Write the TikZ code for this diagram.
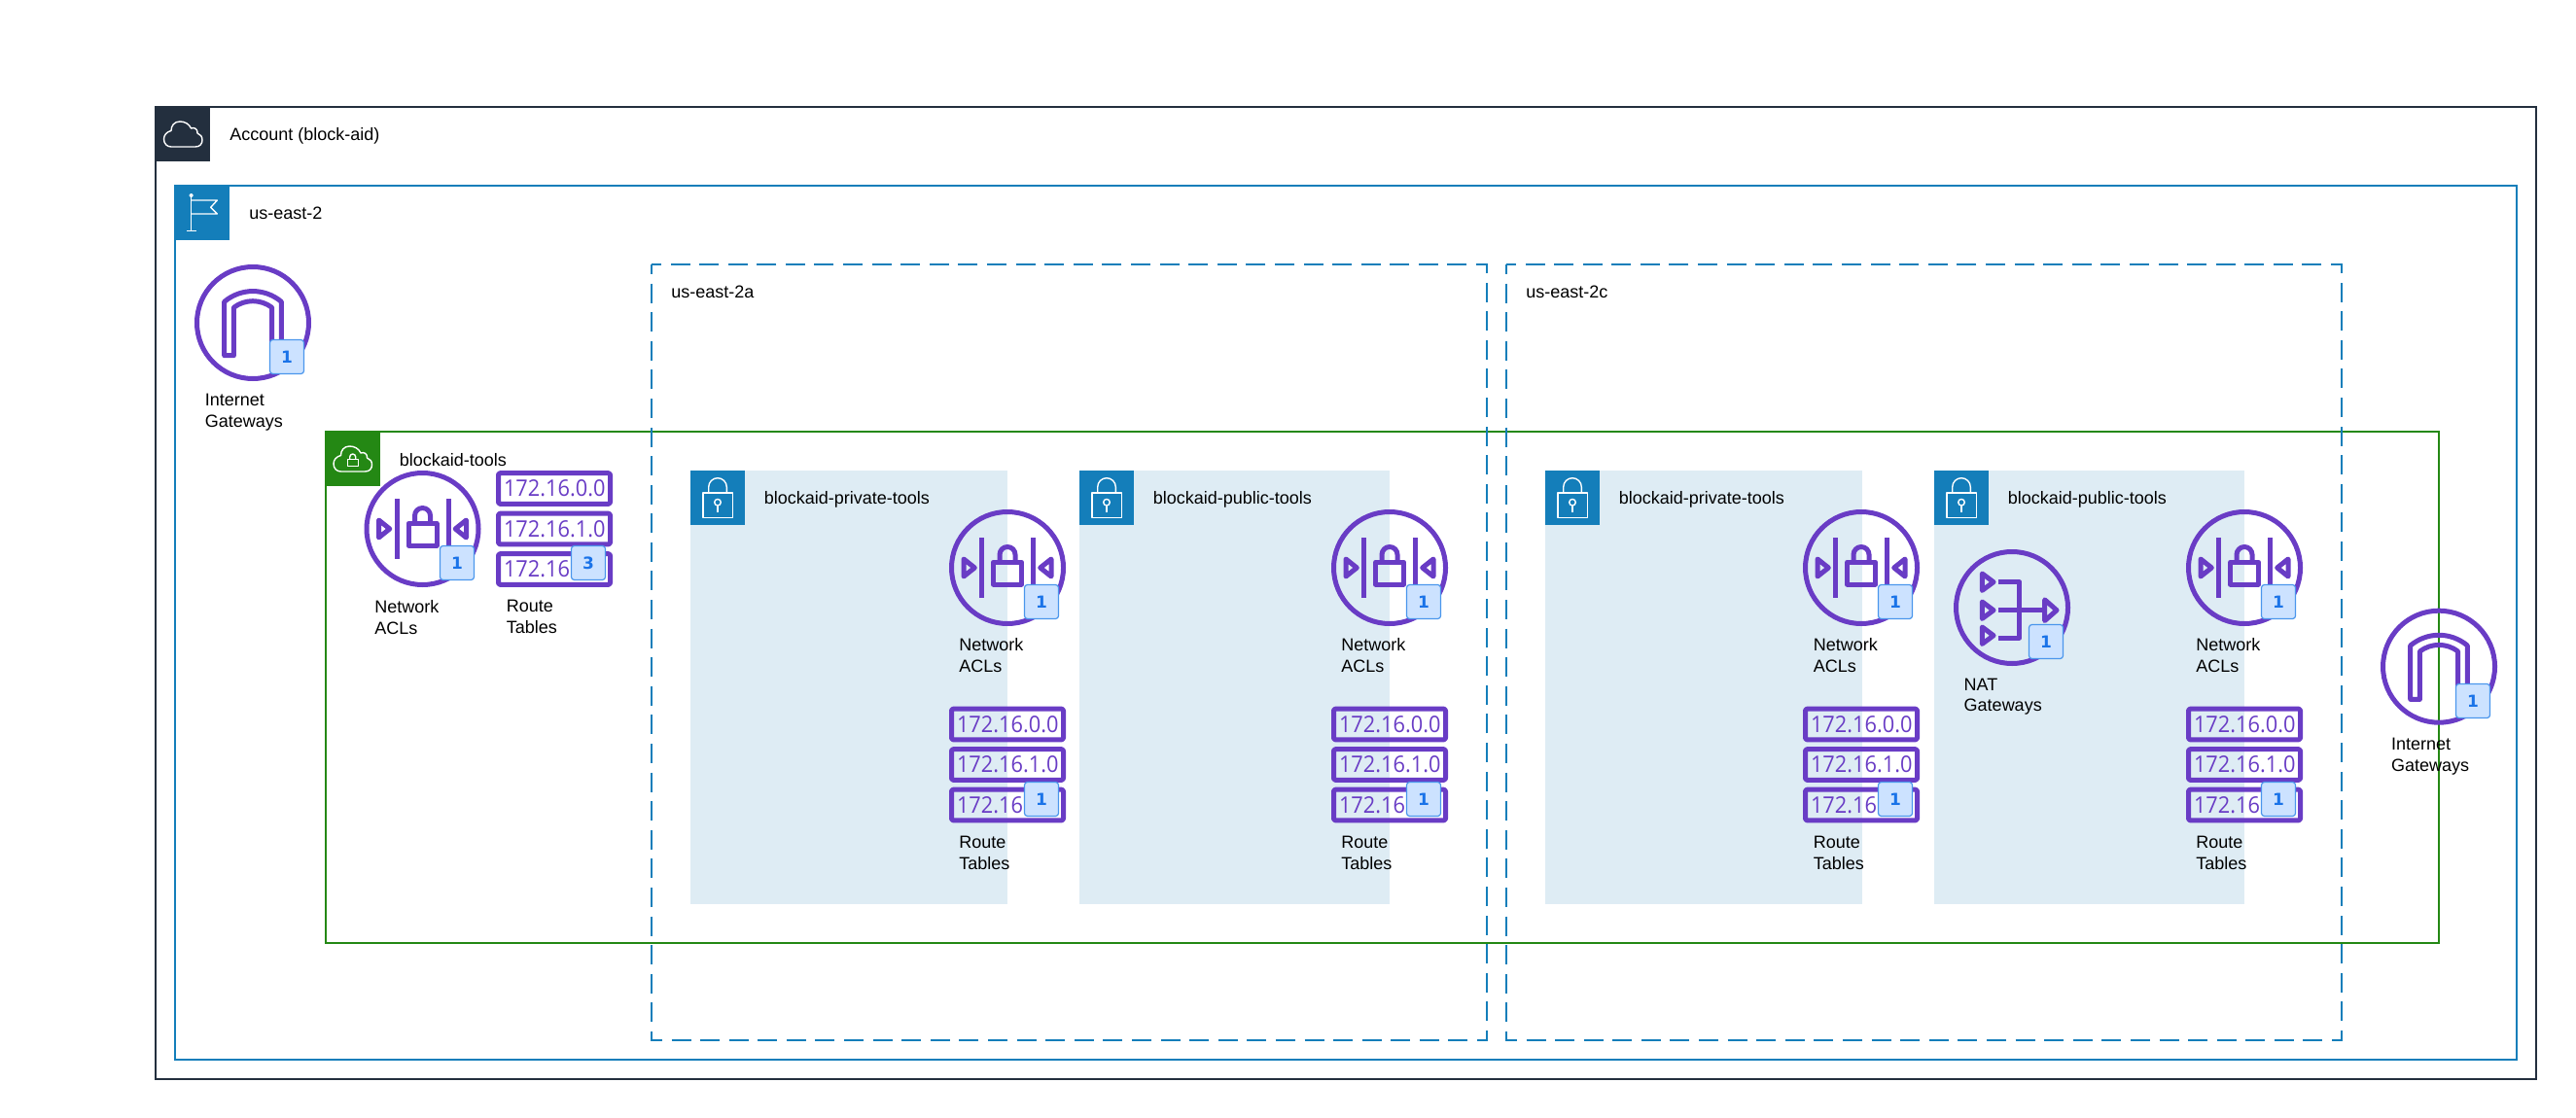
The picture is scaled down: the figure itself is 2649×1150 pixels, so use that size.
\documentclass[tikz,border=0pt]{standalone}
\usepackage{fontspec}
\setmainfont{Liberation Sans}
\newfontfamily\routefont[FakeStretch=0.93]{Open Sans}
\newfontfamily\badgefont{DejaVu Sans}
\definecolor{awsdark}{HTML}{232F3E}
\definecolor{awsblue}{HTML}{147EBA}
\definecolor{awsgreen}{HTML}{248814}
\definecolor{awspurple}{HTML}{693CC5}
\definecolor{subnetfill}{HTML}{DEECF4}
\definecolor{badgefill}{HTML}{CCE2FF}
\definecolor{badgeline}{HTML}{4A96EC}
\definecolor{badgetext}{HTML}{1A73E8}
\tikzset{
    iconline/.style={draw=awspurple, line width=2.5pt, line join=round},
    glyphline/.style={draw=white, line width=.7pt, line join=round},
    routerow/.style={iconline, rounded corners=1pt, inner sep=0pt, minimum width=57.5pt, minimum height=15.85pt,
        text width=52pt, align=left, text=awspurple, font=\routefont\fontsize{11.7}{13}\selectfont},
    pics/igwicon/.style={code={
        \draw[iconline] (0,0) circle[radius=57.5];
        \draw[iconline] (-29.3,33.7) -- (-29.3,-21.7) .. controls (-12,-36) and (12,-36) .. (29.3,-21.7) -- (29.3,33.7)
            -- (19.6,33.7) -- (19.6,-15.7) .. controls (8,-24.5) and (-8,-24.5) .. (-19.6,-15.7) -- (-19.6,33.7) -- cycle;
    }},
    pics/naclicon/.style={code={
        \draw[iconline] (0,0) circle[radius=57.5];
        \draw[iconline] (-26.5,-31) -- (-26.5,31);
        \draw[iconline] (26.5,-31) -- (26.5,31);
        \draw[iconline] (-14.5,-5.7) rectangle (14.5,17);
        \draw[iconline] (-8,-6) -- (-8,-13.5) arc[start angle=180, end angle=360, radius=8] -- (8,-6);
        \draw[iconline] (-45,-9) -- (-33.7,0) -- (-45,9) -- cycle;
        \draw[iconline] (45,-9) -- (33.7,0) -- (45,9) -- cycle;
    }},
    pics/naticon/.style={code={
        \draw[iconline] (0,0) circle[radius=57.5];
        \draw[iconline] (-30.7,-35) -- (-19,-26.3) -- (-30.7,-17.6) -- cycle;
        \draw[iconline] (-30.7,-6) -- (-19,2.7) -- (-30.7,11.4) -- cycle;
        \draw[iconline] (-30.7,20) -- (-19,28.7) -- (-30.7,37.4) -- cycle;
        \draw[iconline] (-14,-26.3) -- (7.7,-26.3) -- (7.7,31) -- (-14,31);
        \draw[iconline] (-14,2.7) -- (33.7,2.7);
        \draw[iconline] (33.7,-8.1) -- (46,2.7) -- (33.7,13.5) -- cycle;
    }},
    pics/routeicon/.style n args={3}{code={
        \node[routerow] (-row1) at (0,-41.5) {#1};
        \node[routerow] (-row2) at (0,0) {#2};
        \node[routerow] (-row3) at (0,41.5) {#3};
    }},
    pics/cloudglyph/.style={code={
        \draw[glyphline] (-12,13) -- (13,13) .. controls (17.5,13) and (20,10) .. (20,6) .. controls (20,2.5) and (18,0) .. (15,-1)
            .. controls (15.5,-5) and (12,-7.5) .. (8.5,-6) .. controls (6.5,-10.5) and (2,-13) .. (-3,-13)
            .. controls (-9,-13) and (-12,-8.5) .. (-12,-3.5) .. controls (-16.5,-2.5) and (-19.5,1) .. (-19.5,5)
            .. controls (-19.5,10) and (-16,13) .. (-12,13) -- cycle;
    }},
    pics/flagglyph/.style={code={
        \draw[glyphline] (-11.3,-17.3) -- (-11.3,18.7);
        \draw[glyphline] (-15.7,18.7) -- (-6.3,18.7);
        \draw[glyphline] (-11.3,-18) circle[radius=1.5];
        \draw[glyphline] (-11.3,-13) -- (15.3,-13) -- (8.7,-5.7) -- (15.3,1) -- (-11.3,1);
    }},
    pics/lockglyph/.style={code={
        \draw[glyphline] (-15,-5) rectangle (15.3,20.3);
        \draw[glyphline] (-9.3,-5) -- (-9.3,-11) arc[start angle=180, end angle=360, radius=9.3] -- (9.3,-5);
        \draw[glyphline] (0,4.7) circle[radius=3.3];
        \draw[glyphline] (0,8) -- (0,15.3);
    }},
    pics/vpcglyph/.style={code={
        \pic {cloudglyph};
        \draw[glyphline] (-5.3,.3) rectangle (5.7,7.3);
        \draw[glyphline] (-2.8,.3) -- (-2.8,-2) arc[start angle=180, end angle=360, radius=3] -- (3.2,.3);
    }}
}
\begin{document}
\begin{tikzpicture}[x=.5pt, y=-.5pt,
    boxline/.style={line width=1pt},
    zoneline/.style={boxline, draw=awsblue, dash pattern=on 10pt off 4.795pt, dash phase=5pt},
    headbox/.style={minimum size=28.25pt, inner sep=0pt},
    boxlabel/.style={anchor=base west, inner sep=0pt, font=\fontsize{9}{10.85}\selectfont},
    iconlabel/.style={anchor=north west, inner sep=0pt, align=left, font=\fontsize{9}{10.85}\selectfont},
    badge/.style={draw=badgeline, fill=badgefill, line width=.6pt, rounded corners=1.5pt, minimum size=17.5pt, inner sep=0pt,
        text=badgetext, font=\badgefont\bfseries\fontsize{8.5}{10}\selectfont}]
    \useasboundingbox (0,0) rectangle (2649,1150);

    % nested groups
    \draw[boxline, draw=awsdark] (160,110) rectangle (2608,1110);
    \draw[boxline, draw=awsblue] (180,191) rectangle (2588,1090);
    \draw[boxline, draw=awsgreen] (335,444) rectangle (2508,970);
    \draw[zoneline] (670,272) rectangle (1529,1070);
    \draw[zoneline] (1549,272) rectangle (2408,1070);

    % subnets
    \fill[subnetfill] (710,484) rectangle (1036,930);
    \fill[subnetfill] (1110,484) rectangle (1429,930);
    \fill[subnetfill] (1589,484) rectangle (1915,930);
    \fill[subnetfill] (1989,484) rectangle (2308,930);

    % group headers
    \node[headbox, fill=awsdark] (accounthead) at (188,138) {};
    \pic at (accounthead) {cloudglyph};
    \node[boxlabel] (accountlabel) at (236,145) {Account (block-aid)};

    \node[headbox, fill=awsblue] (regionhead) at (208,219) {};
    \pic at (regionhead) {flagglyph};
    \node[boxlabel] (regionlabel) at (256,226) {us-east-2};

    \node[headbox, fill=awsgreen] (vpchead) at (362.5,472) {};
    \pic at (vpchead) {vpcglyph};
    \node[boxlabel] (vpclabel) at (410.5,479) {blockaid-tools};

    \node[boxlabel] (azalabel) at (690,306.7) {us-east-2a};
    \node[boxlabel] (azclabel) at (1569,306.7) {us-east-2c};

    \node[headbox, fill=awsblue] (privahead) at (738,512) {};
    \pic at (privahead) {lockglyph};
    \node[boxlabel] (privalabel) at (785.5,518) {blockaid-private-tools};

    \node[headbox, fill=awsblue] (pubahead) at (1138,512) {};
    \pic at (pubahead) {lockglyph};
    \node[boxlabel] (pubalabel) at (1185.5,518) {blockaid-public-tools};

    \node[headbox, fill=awsblue] (privchead) at (1617,512) {};
    \pic at (privchead) {lockglyph};
    \node[boxlabel] (privclabel) at (1664.5,518) {blockaid-private-tools};

    \node[headbox, fill=awsblue] (pubchead) at (2017,512) {};
    \pic at (pubchead) {lockglyph};
    \node[boxlabel] (pubclabel) at (2064.5,518) {blockaid-public-tools};

    % region and vpc icons
    \pic (igwregion) at (260,332) {igwicon};
    \node[badge] (igwregionbadge) at (295,367) {1};
    \node[iconlabel] (igwregionlabel) at (210.5,405) {Internet\\Gateways};

    \pic (naclvpc) at (434.5,544) {naclicon};
    \node[badge] (naclvpcbadge) at (470,579) {1};
    \node[iconlabel] (naclvpclabel) at (385,617) {Network\\ACLs};

    \pic (routevpc) at (570,544) {routeicon={172.16.0.0}{172.16.1.0}{172.16}};
    \node[badge] (routevpcbadge) at (605,579) {3};
    \node[iconlabel] (routevpclabel) at (520.5,617) {Route\\Tables};

    \pic (igwvpc) at (2508,685.7) {igwicon};
    \node[badge] (igwvpcbadge) at (2543,721) {1};
    \node[iconlabel] (igwvpclabel) at (2458.7,759) {Internet\\Gateways};

    % us-east-2a
    \pic (naclpriva) at (1036,584) {naclicon};
    \node[badge] (naclprivabadge) at (1071,619) {1};
    \node[iconlabel] (naclprivalabel) at (986,656.5) {Network\\ACLs};

    \pic (routepriva) at (1036,786.5) {routeicon={172.16.0.0}{172.16.1.0}{172.16}};
    \node[badge] (routeprivabadge) at (1071,822) {1};
    \node[iconlabel] (routeprivalabel) at (986,860) {Route\\Tables};

    \pic (naclpuba) at (1429,584) {naclicon};
    \node[badge] (naclpubabadge) at (1464,619) {1};
    \node[iconlabel] (naclpubalabel) at (1379,656.5) {Network\\ACLs};

    \pic (routepuba) at (1429,786.5) {routeicon={172.16.0.0}{172.16.1.0}{172.16}};
    \node[badge] (routepubabadge) at (1464,822) {1};
    \node[iconlabel] (routepubalabel) at (1379,860) {Route\\Tables};

    % us-east-2c
    \pic (naclprivc) at (1914,584) {naclicon};
    \node[badge] (naclprivcbadge) at (1949,619) {1};
    \node[iconlabel] (naclprivclabel) at (1864.5,656.5) {Network\\ACLs};

    \pic (routeprivc) at (1914,786.5) {routeicon={172.16.0.0}{172.16.1.0}{172.16}};
    \node[badge] (routeprivcbadge) at (1949,822) {1};
    \node[iconlabel] (routeprivclabel) at (1864.5,860) {Route\\Tables};

    \pic (natpubc) at (2069,625) {naticon};
    \node[badge] (natpubcbadge) at (2104,660) {1};
    \node[iconlabel] (natpubclabel) at (2019.3,697.5) {NAT\\Gateways};

    \pic (naclpubc) at (2308,584) {naclicon};
    \node[badge] (naclpubcbadge) at (2343,619) {1};
    \node[iconlabel] (naclpubclabel) at (2258,656.5) {Network\\ACLs};

    \pic (routepubc) at (2308,786.5) {routeicon={172.16.0.0}{172.16.1.0}{172.16}};
    \node[badge] (routepubcbadge) at (2343,822) {1};
    \node[iconlabel] (routepubclabel) at (2258,860) {Route\\Tables};
\end{tikzpicture}
\end{document}
